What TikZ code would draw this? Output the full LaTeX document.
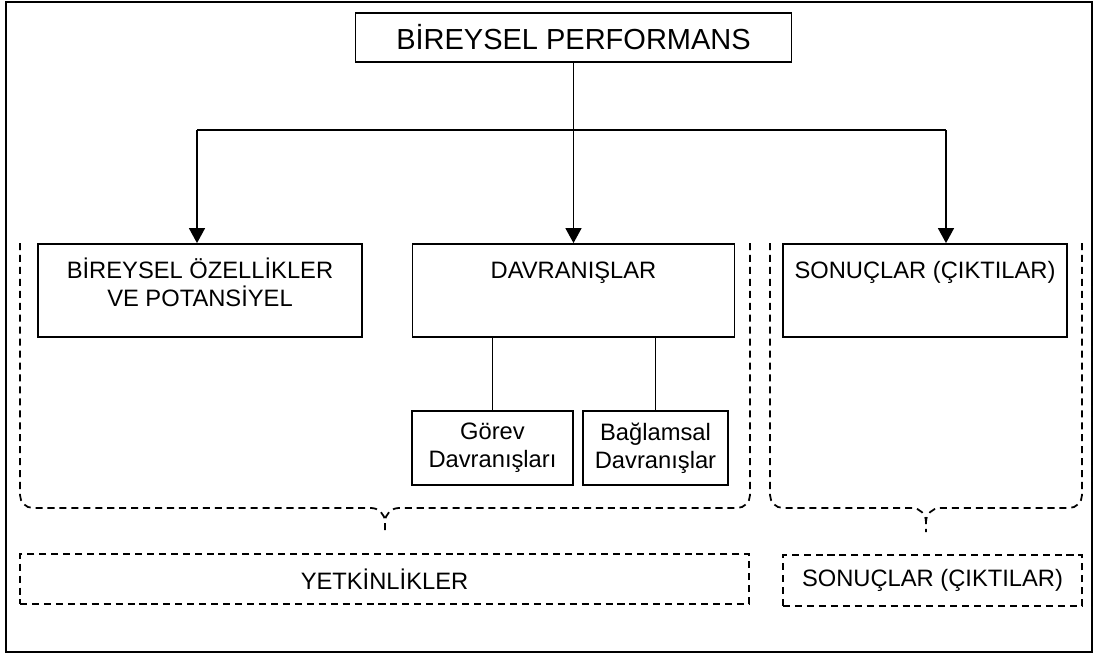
\documentclass[tikz,border=0pt]{standalone}
\usepackage{fontspec}
\setmainfont{Liberation Sans}
\usetikzlibrary{arrows.meta}

\begin{document}
\begin{tikzpicture}[>={Triangle[length=8.5pt,width=9pt]}, line width=1pt,
  kutu/.style={draw, inner sep=0pt, font=\fontsize{13.5}{16}\selectfont},
  kesik/.style={draw, line width=1pt, dash pattern=on 4pt off 2.8pt},
  yazi/.style={anchor=north, inner sep=0pt, align=center, font=\fontsize{13.5}{16}\selectfont}]
  \useasboundingbox (0,0) rectangle (21.96,-13.1);
  % dış çerçeve
  \draw (0.12,-0.04) rectangle (21.84,-13.04);
  % kutular
  \node[kutu, minimum width=8.72cm, minimum height=0.98cm, font=\fontsize{16.5}{19}\selectfont] (perf) at (11.47,-0.75) {BİREYSEL PERFORMANS};
  \node[kutu, minimum width=6.48cm, minimum height=1.86cm] (ozel) at (4.0,-5.81) {};
  \node[kutu, minimum width=6.44cm, minimum height=1.86cm] (davr) at (11.47,-5.81) {};
  \node[kutu, minimum width=5.68cm, minimum height=1.86cm] (sonuc) at (18.5,-5.81) {};
  \node[yazi, yshift=-0.28cm] (ozelY) at (ozel.north) {BİREYSEL ÖZELLİKLER\\VE POTANSİYEL};
  \node[yazi, yshift=-0.36cm] (davrY) at (davr.north) {DAVRANIŞLAR};
  \node[yazi, yshift=-0.34cm] (sonucY) at (sonuc.north) {SONUÇLAR (ÇIKTILAR)};
  \node[kutu, minimum width=3.22cm, minimum height=1.48cm, align=center] (gorev) at (9.85,-8.96) {Görev\\Davranışları};
  \node[kutu, minimum width=2.9cm, minimum height=1.48cm, align=center] (baglam) at (13.11,-8.96) {Bağlamsal\\Davranışlar};
  % alt kesikli kutular
  \node[kesik, minimum width=14.58cm, minimum height=1.0cm, font=\fontsize{13.5}{16}\selectfont] (yetkin) at (7.69,-11.58) {YETKİNLİKLER};
  \node[kesik, minimum width=5.98cm, minimum height=1.02cm, font=\fontsize{13.5}{16}\selectfont] (sonucA) at (18.65,-11.61) {SONUÇLAR (ÇIKTILAR)};
  % oklar
  \coordinate (solU) at (3.94,-2.6);
  \coordinate (sagU) at (18.92,-2.6);
  \draw (solU) -- (sagU);
  \draw[->] (perf.south) -- (davr.north);
  \draw[->] (solU) -- (solU |- ozel.north);
  \draw[->] (sagU) -- (sagU |- sonuc.north);
  \draw (davr.south -| gorev.north) -- (gorev.north);
  \draw (davr.south -| baglam.north) -- (baglam.north);
  % ayraçlar
  \draw[kesik] (0.4,-4.86) -- (0.4,-9.9) to[out=-90,in=180] (0.66,-10.16) -- (7.42,-10.16) to[out=0,in=90] (7.7,-10.44) -- (7.7,-10.64);
  \draw[kesik] (15.0,-4.86) -- (15.0,-9.9) to[out=-90,in=0] (14.74,-10.16) -- (7.98,-10.16) to[out=180,in=90] (7.7,-10.44);
  \draw[kesik] (15.4,-4.86) -- (15.4,-9.9) to[out=-90,in=180] (15.66,-10.16) -- (18.24,-10.16) to[out=0,in=90] (18.52,-10.44) -- (18.52,-10.64);
  \draw[kesik] (21.64,-4.86) -- (21.64,-9.9) to[out=-90,in=0] (21.38,-10.16) -- (18.8,-10.16) to[out=180,in=90] (18.52,-10.44);
\end{tikzpicture}
\end{document}
